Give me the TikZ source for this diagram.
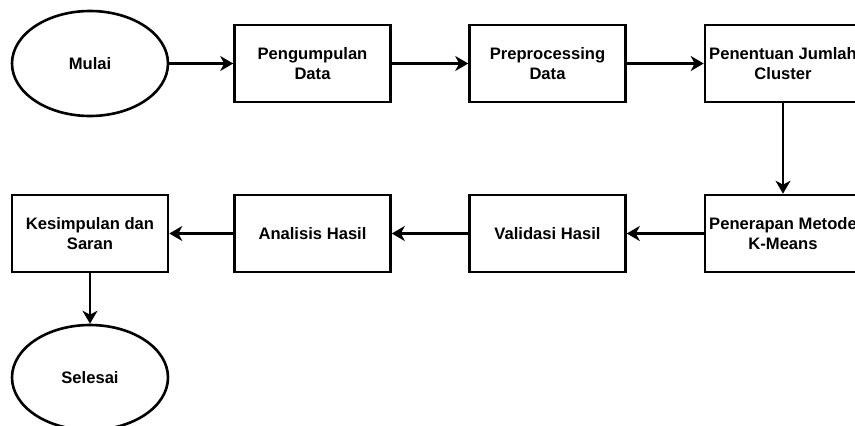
\documentclass[tikz,border=0pt]{standalone}
\usepackage{fontspec}
\setmainfont{Liberation Sans}
\usetikzlibrary{shapes.geometric,arrows.meta}
\begin{document}
\begin{tikzpicture}[x=1pt,y=-1pt,
  every node/.style={font=\fontsize{16.6}{20}\selectfont\bfseries, align=center, inner sep=0pt},
  stepbox/.style={draw, line width=2.6pt, rectangle, minimum width=156pt, minimum height=77pt},
  term/.style={draw, line width=2.6pt, ellipse, minimum width=156pt, minimum height=105pt},
  conn/.style={line width=2.6pt, -{Stealth[length=13pt,width=15pt,inset=4pt]}}]
\useasboundingbox (0,0) rectangle (855,426);
\node[term] (mulai) at (90,63.5) {Mulai};
\node[stepbox] (kumpul) at (312.5,63.5) {Pengumpulan\\Data};
\node[stepbox] (pre) at (547.5,63.5) {Preprocessing\\Data};
\node[stepbox] (tentu) at (783,63.5) {Penentuan Jumlah\\Cluster};
\node[stepbox] (terap) at (783,233.5) {Penerapan Metode\\K-Means};
\node[stepbox] (valid) at (547.5,233.5) {Validasi Hasil};
\node[stepbox] (anal) at (312.5,233.5) {Analisis Hasil};
\node[stepbox] (simp) at (90,233.5) {Kesimpulan dan\\Saran};
\node[term] (selesai) at (90,377.5) {Selesai};
\draw[conn] (mulai) -- (kumpul);
\draw[conn] (kumpul) -- (pre);
\draw[conn] (pre) -- (tentu);
\draw[conn] (tentu) -- (terap);
\draw[conn] (terap) -- (valid);
\draw[conn] (valid) -- (anal);
\draw[conn] (anal) -- (simp);
\draw[conn] (simp) -- (selesai);
\end{tikzpicture}
\end{document}
